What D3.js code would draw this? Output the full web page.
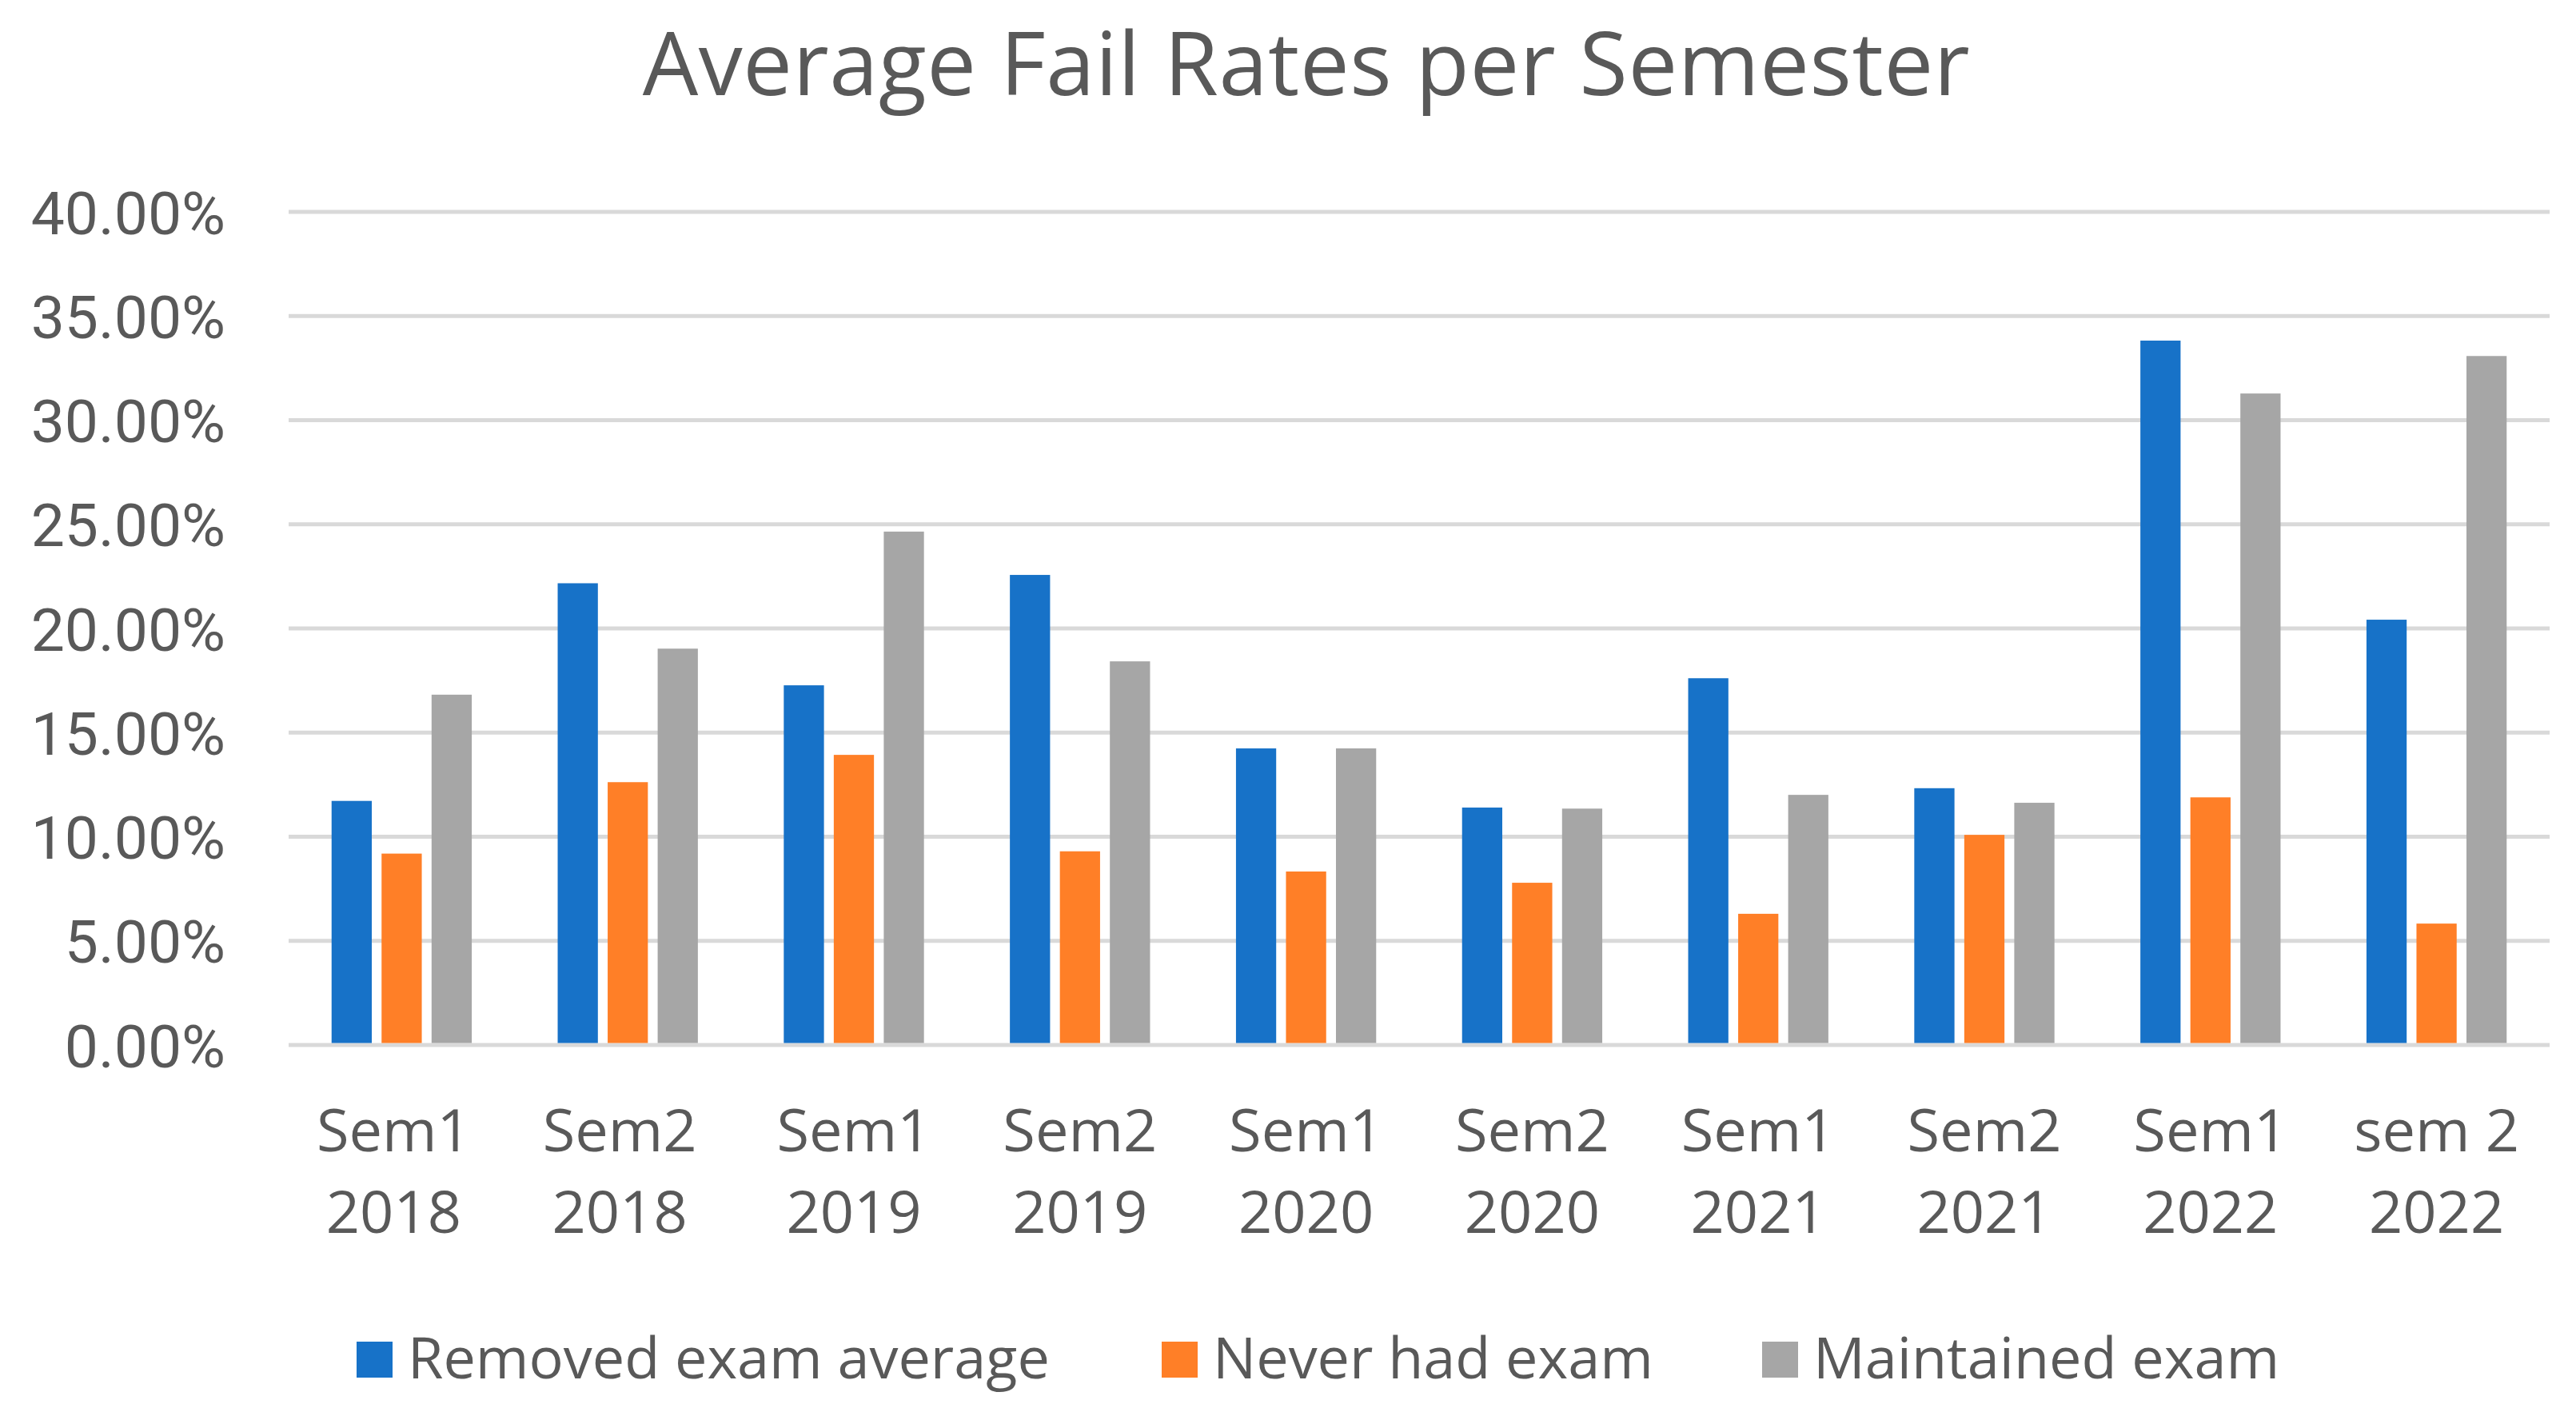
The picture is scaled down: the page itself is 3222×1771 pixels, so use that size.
<!DOCTYPE html>
<html>
<head>
<meta charset="utf-8">
<script src="https://cdn.jsdelivr.net/npm/d3@7"></script>
<style>
  html, body { margin: 0; padding: 0; background: #ffffff; }
  svg { display: block; }
  text { font-family: "Open Sans", sans-serif; fill: #595959; }
</style>
</head>
<body>
<script>
const categories = [
  ["Sem1", "2018"], ["Sem2", "2018"], ["Sem1", "2019"], ["Sem2", "2019"], ["Sem1", "2020"],
  ["Sem2", "2020"], ["Sem1", "2021"], ["Sem2", "2021"], ["Sem1", "2022"], ["sem 2", "2022"]
];
const seriesNames = ["Removed exam average", "Never had exam", "Maintained exam"];
const seriesColors = ["#1772C8", "#FF7F27", "#A6A6A6"];
const removedExam = [0.1172, 0.2217, 0.1727, 0.2257, 0.1424, 0.1140, 0.1761, 0.1233, 0.3382, 0.2042];
const neverHadExam = [0.0919, 0.1262, 0.1393, 0.0930, 0.0833, 0.0779, 0.0630, 0.1009, 0.1189, 0.0583];
const maintainedExam = [0.1682, 0.1903, 0.2465, 0.1842, 0.1424, 0.1135, 0.1201, 0.1163, 0.3128, 0.3308];
const yTicks = [0, 0.05, 0.10, 0.15, 0.20, 0.25, 0.30, 0.35, 0.40];
const chartTitle = "Average Fail Rates per Semester";

const W = 3222, H = 1771;
const plot = { left: 361, right: 3189, top: 265, bottom: 1307 };

const svg = d3.select("body").append("svg")
  .attr("width", W).attr("height", H)
  .attr("viewBox", `0 0 ${W} ${H}`);

const y = d3.scaleLinear().domain([0, 0.40]).range([plot.bottom, plot.top]);
const x0 = d3.scaleBand().domain(d3.range(categories.length)).range([plot.left, plot.right]).padding(0);
const bw = x0.bandwidth();
const x1 = d3.scaleBand().domain(d3.range(seriesNames.length))
  .range([bw * 0.19, bw * 0.81]).paddingInner(0.196).paddingOuter(0);

// Title
svg.append("text")
  .attr("x", 1634).attr("y", 119)
  .attr("text-anchor", "middle")
  .style("font-size", "110px")
  .style("letter-spacing", "0.6px")
  .text(chartTitle);

// Gridlines
svg.append("g")
  .selectAll("line").data(yTicks).join("line")
  .attr("x1", plot.left).attr("x2", plot.right)
  .attr("y1", d => y(d)).attr("y2", d => y(d))
  .attr("stroke", "#D9D9D9").attr("stroke-width", 5);

// Y axis labels
const yAxis = d3.axisLeft(y).tickValues(yTicks).tickFormat(d3.format(".2%")).tickSize(0).tickPadding(0);
const gy = svg.append("g").attr("transform", `translate(282,0)`).call(yAxis);
gy.select(".domain").remove();
gy.selectAll("text")
  .attr("x", 0).attr("dy", "0.36em")
  .style("font-family", "Roboto, sans-serif")
  .style("font-size", "75px")
  .style("fill", "#595959");

// Bars
const series = [removedExam, neverHadExam, maintainedExam];
const groups = svg.append("g").selectAll("g").data(categories).join("g")
  .attr("transform", (d, i) => `translate(${x0(i)},0)`);
groups.selectAll("rect")
  .data((d, i) => series.map((s, k) => ({ k, v: s[i] })))
  .join("rect")
  .attr("x", d => x1(d.k))
  .attr("width", x1.bandwidth())
  .attr("y", d => y(d.v))
  .attr("height", d => y(0) - y(d.v) - 2.5)
  .attr("fill", d => seriesColors[d.k]);

// X labels
const xl = svg.append("g").selectAll("text").data(categories).join("text")
  .attr("text-anchor", "middle")
  .style("font-size", "74px");
xl.each(function(d, i) {
  const t = d3.select(this);
  const cx = x0(i) + bw / 2 - (i < 2 ? 10 : 0);
  t.append("tspan").attr("x", cx).attr("y", 1440).text(d[0]);
  t.append("tspan").attr("x", cx).attr("y", 1542).text(d[1]);
});

// Legend
const legendX = [446, 1453, 2204];
const lg = svg.append("g").selectAll("g").data(seriesNames).join("g")
  .attr("transform", (d, i) => `translate(${legendX[i]},0)`);
lg.append("rect").attr("x", 0).attr("y", 1678).attr("width", 45).attr("height", 45)
  .attr("fill", (d, i) => seriesColors[i]);
lg.append("text").attr("x", 64).attr("y", 1724)
  .style("font-size", "72px")
  .text(d => d);
</script>
</body>
</html>
